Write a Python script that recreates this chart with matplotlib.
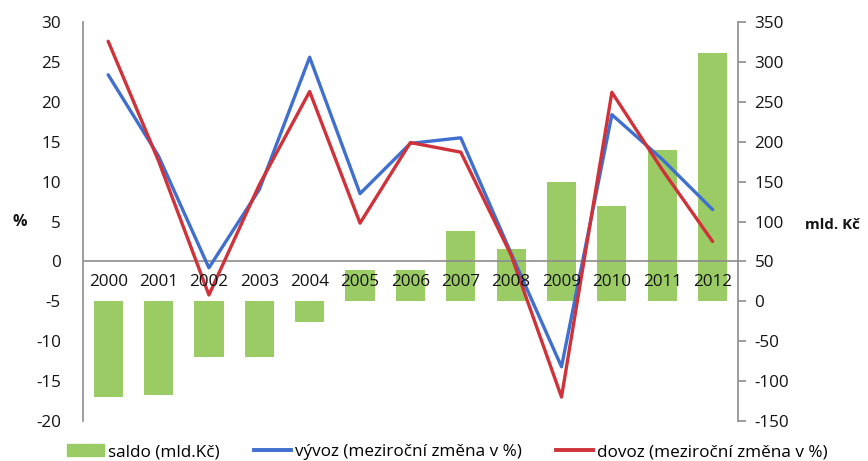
import matplotlib
matplotlib.use("Agg")
from matplotlib import pyplot as plt
from matplotlib.lines import Line2D
from matplotlib.patches import Patch
import numpy as np

plt.rcParams['font.family'] = ['Open Sans', 'DejaVu Sans']
plt.rcParams['axes.unicode_minus'] = False

years = ["2000", "2001", "2002", "2003", "2004", "2005", "2006",
         "2007", "2008", "2009", "2010", "2011", "2012"]
# saldo in mld. Kč (right axis)
saldo = [-120, -118, -70, -70, -26, 39, 39, 88, 66, 149, 120, 190, 311]
# year-on-year change in % (left axis)
vyvoz = [23.4, 13.2, -0.8, 9.0, 25.6, 8.5, 14.8, 15.5, 1.0, -13.2, 18.4, 12.8, 6.5]
dovoz = [27.6, 12.6, -4.2, 9.6, 21.3, 4.8, 14.9, 13.7, 0.8, -17.0, 21.2, 11.5, 2.5]

GREEN = "#9BCB64"
BLUE = "#3F6FCF"
RED = "#CF3238"
GREY = "#8C8C8C"
TXT = "#141414"
FS = 12.3

fig = plt.figure(figsize=(8.68, 4.61), dpi=100)
ax = fig.add_axes([0.0956, 0.0868, 0.7544, 0.8652])
ax2 = ax.twinx()

x = np.arange(len(years))

# bars on the right axis
ax2.bar(x, saldo, width=0.58, color=GREEN, zorder=1)
ax2.set_ylim(-150, 350)
ax2.set_yticks(np.arange(-150, 351, 50))

# lines on the left axis, drawn above the bars
ax.set_zorder(ax2.get_zorder() + 1)
ax.patch.set_visible(False)
ax.plot(x, vyvoz, color=BLUE, lw=2.4, solid_capstyle="round")
ax.plot(x, dovoz, color=RED, lw=2.4, solid_capstyle="round")
ax.axhline(0, color=GREY, lw=1.2, zorder=0)
ax.set_ylim(-20, 30)
ax.set_yticks(np.arange(-20, 31, 5))
ax.set_xlim(-0.5, len(years) - 0.5)
ax.set_xticks([])

for i, yr in enumerate(years):
    ax.text(i, -2.6, yr, ha="center", va="center", fontsize=FS, color=TXT)

for a in (ax, ax2):
    for s in ("top", "bottom"):
        a.spines[s].set_visible(False)
ax.spines["right"].set_visible(False)
ax2.spines["left"].set_visible(False)
ax.spines["left"].set_color(GREY)
ax2.spines["right"].set_color(GREY)
ax.spines["left"].set_linewidth(1.2)
ax2.spines["right"].set_linewidth(1.2)

ax.tick_params(axis="y", length=0, labelsize=FS, pad=16, labelcolor=TXT)
ax2.tick_params(axis="y", length=6, width=1.2, color=GREY, labelsize=FS, pad=6, labelcolor=TXT)

fig.text(20 / 868, 1 - 222 / 461, "%", ha="center", va="center", fontsize=11.5, fontweight="bold", color=TXT)
fig.text(832 / 868, 1 - 225 / 461, "mld. Kč", ha="center", va="center", fontsize=10.8, fontweight="bold", color=TXT)

handles = [
    Patch(color=GREEN),
    Line2D([0], [0], color=BLUE, lw=2.8),
    Line2D([0], [0], color=RED, lw=2.8),
]
labels = ["saldo (mld.Kč)", "vývoz (meziroční změna v %)", "dovoz (meziroční změna v %)"]
fig.legend(handles, labels, loc="center", bbox_to_anchor=(0.515, 1 - 452 / 461), ncol=3,
           frameon=False, fontsize=FS, handlelength=2.2, handletextpad=0.2,
           columnspacing=2.0, borderaxespad=0)

fig.savefig("out.png", dpi=100)
